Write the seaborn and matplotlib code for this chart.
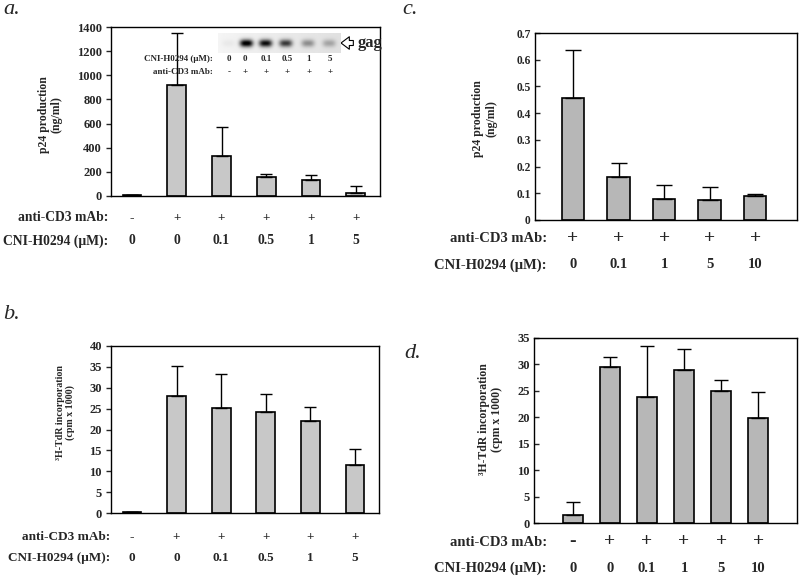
import numpy as np
import pandas as pd
import matplotlib
matplotlib.use("Agg")
import matplotlib.pyplot as plt
import matplotlib.transforms as mtrans
import seaborn as sns

sns.set_style("white")
plt.rcParams['font.family'] = ['Liberation Serif', 'DejaVu Serif']
plt.rcParams['font.weight'] = 'bold'

# ---- data ----
a_cd3 = ['-', '+', '+', '+', '+', '+']
a_cni = ['0', '0', '0.1', '0.5', '1', '5']
a_vals = [10, 920, 330, 160, 130, 25]
a_err = [0, 430, 240, 25, 40, 60]
blot_int = [0.04, 1.0, 0.9, 0.7, 0.35, 0.25]

b_cd3 = ['-', '+', '+', '+', '+', '+']
b_cni = ['0', '0', '0.1', '0.5', '1', '5']
b_vals = [0.3, 28.0, 25.2, 24.2, 22.0, 11.5]
b_err = [0, 7.1, 8.0, 4.4, 3.5, 3.8]

c_cd3 = ['+', '+', '+', '+', '+']
c_cni = ['0', '0.1', '1', '5', '10']
c_vals = [0.455, 0.16, 0.08, 0.075, 0.09]
c_err = [0.18, 0.055, 0.05, 0.047, 0.008]

d_cd3 = ['-', '+', '+', '+', '+', '+']
d_cni = ['0', '0', '0.1', '1', '5', '10']
d_vals = [1.5, 29.6, 23.8, 28.9, 25.0, 19.9]
d_err = [2.4, 1.8, 9.6, 4.1, 2.1, 4.9]

W, H = 800, 577
fig = plt.figure(figsize=(8, 5.77), dpi=100)


def box(l, r, t, b):
    return [l / W, 1 - b / H, (r - l) / W, (b - t) / H]


def panel(rect, vals, err, cd3, cni, ylim, yticks, ylabel, color, xlim,
          barw, tickdir, row_y, label_x, ylab_xy, fs_tick, fs_ylab, fs_row, plus_fs,
          cap, letter, letter_xy):
    ax = fig.add_axes(box(*rect))
    df = pd.DataFrame({'x': [str(i) for i in range(len(vals))], 'y': vals})
    sns.barplot(data=df, x='x', y='y', ax=ax, color=color, width=barw,
                edgecolor='black', linewidth=1.2, saturation=1, errorbar=None)
    xs = np.arange(len(vals))
    ax.errorbar(xs, vals, yerr=[np.zeros(len(vals)), err], fmt='none',
                ecolor='black', elinewidth=1.0, capsize=cap, capthick=1.0)
    ax.set_xlim(*xlim)
    ax.set_ylim(*ylim)
    ax.set_yticks(yticks)
    ax.set_yticklabels([f'{t:g}' for t in yticks], fontsize=fs_tick, fontweight='bold')
    ax.set_xticks([])
    ax.set_xlabel('')
    ax.set_ylabel(ylabel, fontsize=fs_ylab, fontweight='bold', linespacing=1.1)
    ax.yaxis.set_label_coords(*ylab_xy)
    ax.tick_params(axis='y', direction=tickdir, length=3.5, width=1, pad=3, left=True)
    for s in ax.spines.values():
        s.set_visible(True)
        s.set_color('black')
        s.set_linewidth(1.0)
    tr = mtrans.blended_transform_factory(ax.transData, fig.transFigure)
    y1, y2 = 1 - row_y[0] / H, 1 - row_y[1] / H
    fig.text(label_x / W, y1, 'anti-CD3 mAb:', ha='right', va='center',
             fontsize=fs_row, fontweight='bold')
    fig.text(label_x / W, y2, 'CNI-H0294 (μM):', ha='right', va='center',
             fontsize=fs_row, fontweight='bold')
    for i in range(len(vals)):
        ax.text(i, y1, cd3[i], transform=tr, ha='center', va='center',
                fontsize=plus_fs, fontweight='bold', clip_on=False)
        ax.text(i, y2, cni[i], transform=tr, ha='center', va='center',
                fontsize=fs_row, fontweight='bold', clip_on=False)
    fig.text(letter_xy[0] / W, 1 - letter_xy[1] / H, letter, ha='left', va='center',
             fontsize=16, fontstyle='italic', fontweight='normal')
    return ax


ax_a = panel((111, 380, 27, 196), a_vals, a_err, a_cd3, a_cni, (0, 1400),
             list(range(0, 1401, 200)), 'p24 production\n(ng/ml)', '#c8c8c8',
             (-0.47, 5.54), 0.42, 'out', (218, 241), 108, (-0.18, 0.48), 9, 8.5, 9.8, 9.5, 4,
             'a.', (3, 9))
ax_b = panel((111, 379, 346, 513), b_vals, b_err, b_cd3, b_cni, (0, 40),
             list(range(0, 41, 5)), '³H-TdR incorporation\n(cpm x 1000)', '#c8c8c8',
             (-0.47, 5.54), 0.42, 'out', (537, 558), 110, (-0.134, 0.6), 9, 7.2, 9.5, 9.5, 4,
             'b.', (3, 315))
ax_c = panel((535, 797, 33, 220), c_vals, c_err, c_cd3, c_cni, (0, 0.7),
             [0, 0.1, 0.2, 0.3, 0.4, 0.5, 0.6, 0.7], 'p24 production\n(ng/ml)', '#b7b7b7',
             (-0.835, 4.92), 0.5, 'in', (238, 265), 547, (-0.145, 0.545), 8.3, 8.5, 10.5, 14, 6,
             'c.', (402, 9))
ax_d = panel((534, 797, 338, 523), d_vals, d_err, d_cd3, d_cni, (0, 35),
             list(range(0, 36, 5)), '³H-TdR incorporation\n(cpm x 1000)', '#b7b7b7',
             (-1.05, 6.05), 0.52, 'in', (542, 568), 547, (-0.118, 0.56), 9, 8.5, 10.5, 14, 5,
             'd.', (404, 353))

# ---- blot inset in panel a ----
bx = fig.add_axes(box(218, 340, 33, 53))
nx, ny = 244, 40
lane_x = np.array([(228 - 218), (246 - 218), (265 - 218), (285 - 218),
                   (307 - 218), (328 - 218)]) / 122 * nx
gx, gy = np.meshgrid(np.arange(nx), np.arange(ny))
img = 0.04 + 0.08 * (gx / nx)
for xc, inten in zip(lane_x, blot_int):
    img = img + inten * np.exp(-np.abs((gx - xc) / 13.0) ** 3 - ((gy - ny / 2) / 7.5) ** 2)
bx.imshow(1 - np.clip(img, 0, 1), cmap='gray', vmin=0, vmax=1, aspect='auto')
bx.axis('off')
ax_a.annotate('gag', xy=(341 / W, 1 - 43 / H), xycoords='figure fraction',
              xytext=(358 / W, 1 - 43 / H), textcoords='figure fraction',
              ha='left', va='center', fontsize=12, fontweight='bold',
              arrowprops=dict(arrowstyle='simple,head_width=0.75,head_length=0.5,tail_width=0.3',
                              fc='white', ec='black', lw=0.8, shrinkA=1, shrinkB=0))
fig.text(213 / W, 1 - 59 / H, 'CNI-H0294 (μM):', ha='right', va='center', fontsize=6.5, fontweight='bold')
fig.text(213 / W, 1 - 72 / H, 'anti-CD3 mAb:', ha='right', va='center', fontsize=6.5, fontweight='bold')
blot_x = [229, 245, 266, 287, 309, 330]
for xp, c1, c2 in zip(blot_x, a_cni, a_cd3):
    fig.text(xp / W, 1 - 59 / H, c1, ha='center', va='center', fontsize=6.5, fontweight='bold')
    fig.text(xp / W, 1 - 72 / H, c2, ha='center', va='center', fontsize=6.5, fontweight='bold')

fig.savefig('out.png', dpi=100)
